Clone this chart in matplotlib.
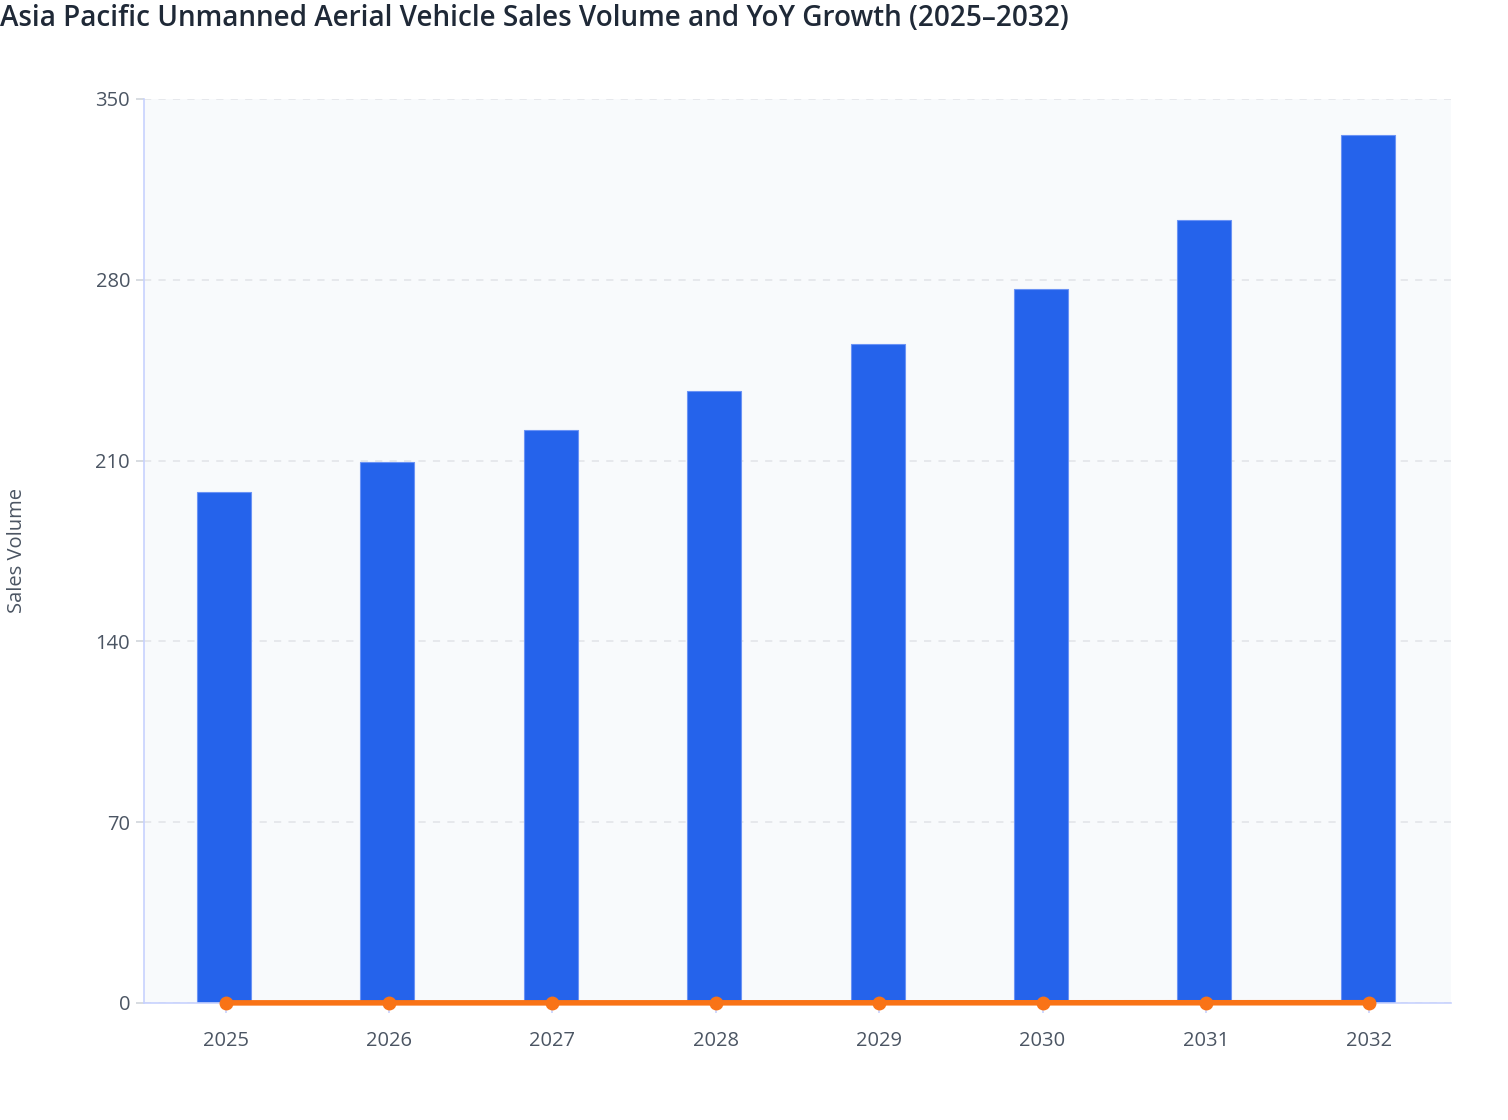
import numpy as np
import matplotlib.pyplot as plt

plt.rcParams['font.family'] = ['Open Sans', 'DejaVu Sans']

# Données
years = ["2025", "2026", "2027", "2028", "2029", "2030", "2031", "2032"]
sales = [198, 209.5, 222, 237, 255, 276.5, 303, 336]
yoy = [0.05, 0.058, 0.06, 0.068, 0.076, 0.084, 0.096, 0.109]  # croissance en fraction

x = np.arange(len(years))

fig = plt.figure(figsize=(15.08, 11.2), dpi=100)
ax = fig.add_axes([144 / 1508, 1 - 1003 / 1120, (1451 - 144) / 1508, (1003 - 99) / 1120])
ax.set_facecolor("#f8fafc")

ax.bar(x - 0.01, sales, width=0.33, color="#2563eb", edgecolor="#6b93f5", linewidth=0.8, zorder=2)
ax.plot(x, yoy, color="#f97316", lw=4, marker="o", ms=9, zorder=3, clip_on=False)

ax.set_xlim(-0.5, 7.5)
ax.set_ylim(0, 350)
ax.set_yticks([0, 70, 140, 210, 280, 350])
ax.set_xticks(x)
ax.set_xticklabels(years)

ax.grid(axis="y", color="#e5e7eb", ls=(0, (4, 4)), lw=1.3, zorder=0)
ax.set_axisbelow(True)

for s in ["top", "right"]:
    ax.spines[s].set_visible(False)
ax.spines["left"].set_color("#c7d2fe")
ax.spines["bottom"].set_color("#c7d2fe")
ax.spines["left"].set_linewidth(1.2)
ax.spines["bottom"].set_linewidth(1.2)

ax.tick_params(axis="x", colors="#c7d2fe", length=7, width=1.2, pad=13, labelcolor="#4b5563", labelsize=14.5)
ax.tick_params(axis="y", colors="#d1d5db", length=6, width=1.2, pad=4, labelcolor="#4b5563", labelsize=14.5)

# Libellé de l'axe Y placé dans la figure pour ne pas être coupé
fig.text(17 / 1508, 1 - 551 / 1120, "Sales Volume", rotation=90, color="#4b5563", fontsize=14.5,
         ha="center", va="center")

fig.text(0.0, 1 - 18 / 1120, "Asia Pacific Unmanned Aerial Vehicle Sales Volume and YoY Growth (2025–2032)",
         fontsize=20.1, color="#1f2937", ha="left", va="center", fontweight="semibold")

fig.savefig("out.png", dpi=100)
